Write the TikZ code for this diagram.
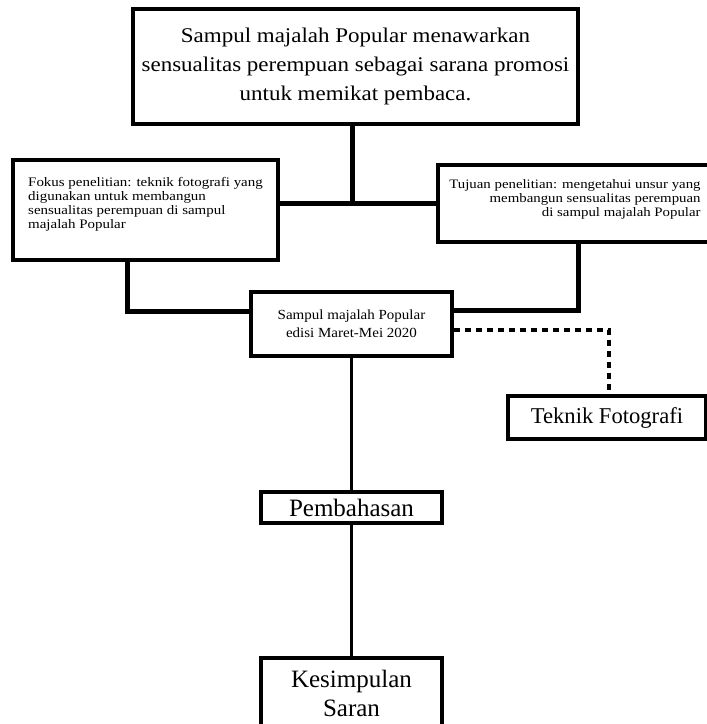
\documentclass[tikz,border=0pt]{standalone}
\usepackage{fontspec}
\setmainfont{Liberation Serif}
\newfontfamily\widetop[FakeStretch=1.1]{Liberation Serif}
\newfontfamily\widesmall[FakeStretch=1.15]{Liberation Serif}
\newfontfamily\widecover[FakeStretch=1.08]{Liberation Serif}
\newcommand{\mytightlines}{\lineskiplimit=-5pt\relax}
\begin{document}
\begin{tikzpicture}[x=1pt,y=-1pt,
  box/.style={draw, line width=4pt, inner sep=0pt, align=center},
  conn/.style={line width=5pt},
  thinconn/.style={line width=3.5pt},
  dashconn/.style={line width=3.5pt, dash pattern=on 6pt off 5pt}]
\useasboundingbox (0,0) rectangle (707,724);
\clip (0,0) rectangle (707,724);

\node[box, minimum width=445, minimum height=115, font=\widetop\fontsize{20.9}{29}\selectfont] (top) at (355.5,66.5)
  {Sampul majalah Popular menawarkan\\ sensualitas perempuan sebagai sarana promosi\\ untuk memikat pembaca.};

\node[box, minimum width=265, minimum height=100, align=left, font=\widesmall\fontsize{13}{14.2}\selectfont\mytightlines] (focus) at (145.5,210)
  {Fokus penelitian: teknik fotografi yang\\ digunakan untuk membangun\\ sensualitas perempuan di sampul\\ majalah Popular\rule[-14pt]{0pt}{0pt}};

\node[box, minimum width=274, minimum height=77, align=right, font=\widesmall\fontsize{12.9}{14}\selectfont\mytightlines] (aim) at (575,203.5)
  {Tujuan penelitian: mengetahui unsur yang\\ membangun sensualitas perempuan\\ di sampul majalah Popular\rule[-10pt]{0pt}{0pt}};

\node[box, line width=3.5pt, minimum width=201, minimum height=64, font=\widecover\fontsize{13.9}{18}\selectfont] (cover) at (351.5,324)
  {Sampul majalah Popular\\ edisi Maret-Mei 2020};

\node[box, minimum width=198, minimum height=43, font=\fontsize{22.6}{26}\selectfont] (tek) at (607,417.5) {Teknik Fotografi};

\node[box, line width=3.5pt, minimum width=181, minimum height=31, font=\fontsize{25}{28}\selectfont] (bahas) at (351.5,507.5) {Pembahasan};

\node[box, line width=3.5pt, minimum width=181, minimum height=72, anchor=north, font=\fontsize{25}{29}\selectfont] (kes) at (351.5,656) {Kesimpulan\\ Saran};

\coordinate (hub) at (352,203);
\coordinate (lb) at (127,311);
\coordinate (rb) at (578,310);
\coordinate (db) at (609,330);

\draw[conn] (hub |- top.south) -- (hub);
\draw[conn] (focus.east |- hub) -- (aim.west |- hub);
\draw[conn] (lb |- focus.south) -- (lb) -- (cover.west |- lb);
\draw[conn] (rb |- aim.south) -- (rb) -- (cover.east |- rb);
\draw[dashconn] (cover.east |- db) -- (db) -- (db |- tek.north);
\draw[thinconn] (cover.south) -- (bahas.north);
\draw[thinconn] (bahas.south) -- (kes.north);
\end{tikzpicture}
\end{document}
